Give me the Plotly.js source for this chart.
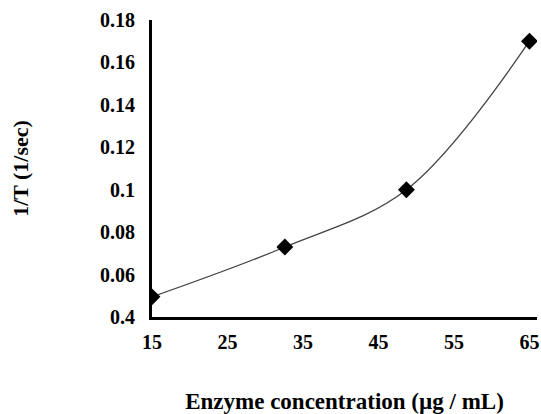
<!DOCTYPE html>
<html>
<head>
<meta charset="utf-8">
<script src="https://cdn.plot.ly/plotly-3.0.1.min.js"></script>
<style>html,body{margin:0;padding:0;background:#fff;}#chart{width:541px;height:414px;}</style>
</head>
<body>
<div id="chart"></div>
<script>
const concentration = [15, 32.6, 48.7, 65];
const invT = [0.0495, 0.073, 0.1, 0.17];
const xTickVals = [15, 25, 35, 45, 55, 65];
const xTickText = ['15', '25', '35', '45', '55', '65'];
const yTickVals = [0.04, 0.06, 0.08, 0.1, 0.12, 0.14, 0.16, 0.18];
const yTickText = ['0.4', '0.06', '0.08', '0.1', '0.12', '0.14', '0.16', '0.18'];

const fam = 'Liberation Serif, Times New Roman, serif';
const bold = arr => arr.map(t => '<b>' + t + '</b>');

const traces = [
  {
    x: concentration, y: invT, type: 'scatter', mode: 'lines',
    line: {shape: 'spline', smoothing: 1, color: '#444', width: 1.3},
    hoverinfo: 'skip', showlegend: false
  },
  {
    x: concentration, y: invT, type: 'scatter', mode: 'markers',
    marker: {symbol: 'diamond', size: 13, color: '#000'},
    showlegend: false
  }
];

const layout = {
  width: 541, height: 414,
  margin: {l: 152, r: 4, t: 20, b: 97},
  paper_bgcolor: '#fff', plot_bgcolor: '#fff',
  font: {family: fam, size: 20, color: '#000'},
  xaxis: {
    range: [15, 66], tickvals: xTickVals, ticktext: bold(xTickText),
    showgrid: false, zeroline: false, showline: true, linecolor: '#000', linewidth: 3,
    ticks: 'outside', ticklen: 5, tickcolor: 'rgba(0,0,0,0)',
    tickfont: {family: fam, size: 20, color: '#000', weight: 'bold'},
    title: {text: '<b>Enzyme concentration (µg / mL)</b>', standoff: 44,
            font: {family: fam, size: 23, color: '#000'}}
  },
  yaxis: {
    range: [0.04, 0.18], tickvals: yTickVals, ticktext: bold(yTickText),
    showgrid: false, zeroline: false, showline: true, linecolor: '#000', linewidth: 3,
    ticks: 'outside', ticklen: 10, tickcolor: 'rgba(0,0,0,0)',
    tickfont: {family: fam, size: 20, color: '#000', weight: 'bold'},
    title: {text: '<b>1/T (1/sec)</b>', standoff: 66,
            font: {family: fam, size: 22, color: '#000'}}
  }
};

Plotly.newPlot('chart', traces, layout, {displayModeBar: false, staticPlot: true});
</script>
</body>
</html>
